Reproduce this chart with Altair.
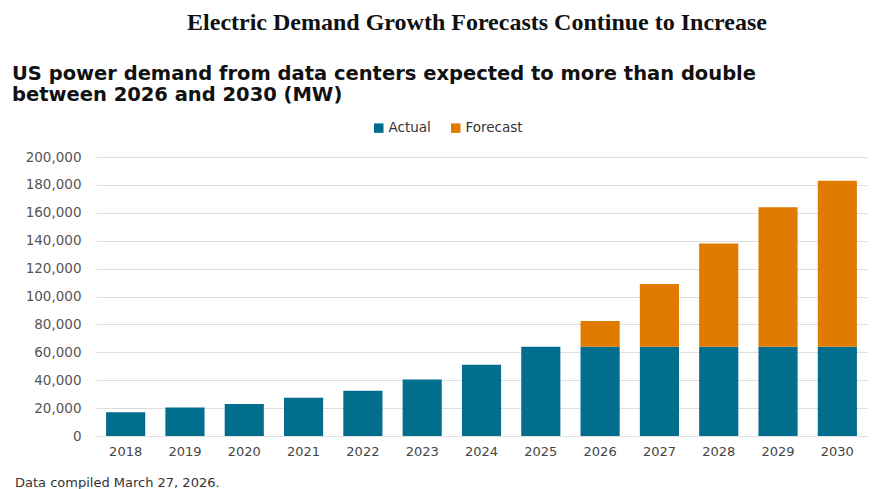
import altair as alt
import pandas as pd

YEARS = ["2018", "2019", "2020", "2021", "2022", "2023", "2024", "2025",
         "2026", "2027", "2028", "2029", "2030"]
ACTUAL = [17000, 20500, 23000, 27500, 32500, 40500, 51000, 64000,
          64000, 64000, 64000, 64000, 64000]
FORECAST = [0, 0, 0, 0, 0, 0, 0, 0, 18500, 45000, 74000, 100000, 119000]
SERIES = ["Actual", "Forecast"]
COLORS = ["#006e8c", "#e07b00"]
Y_TICKS = [0, 20000, 40000, 60000, 80000, 100000, 120000, 140000, 160000, 180000, 200000]

TITLE = "Electric Demand Growth Forecasts Continue to Increase"
SUBTITLE_LINES = ["US power demand from data centers expected to more than double",
                  "between 2026 and 2030 (MW)"]
FOOTER = "Data compiled March 27, 2026."

rows = []
for y, a, f in zip(YEARS, ACTUAL, FORECAST):
    rows.append({"year": y, "series": "Actual", "value": a, "ord": 0})
    rows.append({"year": y, "series": "Forecast", "value": f, "ord": 1})
df = pd.DataFrame(rows)

W, H = 771, 279
SANS = "DejaVu Sans"

bars = alt.Chart(df).mark_bar().encode(
    x=alt.X("year:N", sort=YEARS,
            scale=alt.Scale(paddingInner=0.34, paddingOuter=0.17),
            axis=alt.Axis(title=None, labelAngle=0, ticks=False, tickSize=0, domain=False,
                          labelPadding=9, labelFontSize=13, labelColor="#444444",
                          labelFont=SANS)),
    y=alt.Y("value:Q", stack="zero",
            scale=alt.Scale(domain=[0, 200000], nice=False),
            axis=alt.Axis(title=None, values=Y_TICKS, format=",d", ticks=False, tickSize=0,
                          domain=False, labelPadding=15, labelFontSize=13.5,
                          labelColor="#555555", labelFont=SANS,
                          gridColor="#dedede", gridWidth=1)),
    color=alt.Color("series:N", scale=alt.Scale(domain=SERIES, range=COLORS),
                    legend=alt.Legend(title=None, orient="none", direction="horizontal",
                                      legendX=276, legendY=-36, symbolType="square",
                                      symbolSize=90, symbolStrokeWidth=0,
                                      labelFontSize=13.5, labelColor="#333333",
                                      labelFont=SANS, columnPadding=18, labelOffset=3,
                                      symbolOpacity=1)),
    order=alt.Order("ord:Q", sort="ascending"),
)

one = pd.DataFrame({"k": [0]})

title = alt.Chart(one).mark_text(
    align="center", baseline="alphabetic", font="Liberation Serif", fontWeight="bold",
    fontSize=24, color="#111111"
).encode(x=alt.value(477 - 96), y=alt.value(-127), text=alt.value(TITLE))

subtitle = alt.Chart(one).mark_text(
    align="left", baseline="alphabetic", font=SANS, fontWeight="bold",
    fontSize=19.5, lineHeight=21, color="#111111"
).encode(x=alt.value(-84), y=alt.value(-77), text=alt.value(SUBTITLE_LINES))

footer = alt.Chart(one).mark_text(
    align="left", baseline="alphabetic", font=SANS,
    fontSize=13, color="#333333"
).encode(x=alt.value(-81), y=alt.value(H + 51), text=alt.value(FOOTER))

chart = alt.layer(bars, title, subtitle, footer).properties(
    width=W, height=H,
    autosize=alt.AutoSizeParams(type="none"),
    padding={"left": 96, "top": 157, "right": 8, "bottom": 53},
    background="white",
).configure_view(stroke=None)

chart.save("out.html", embed_options={"renderer": "svg", "actions": False})
